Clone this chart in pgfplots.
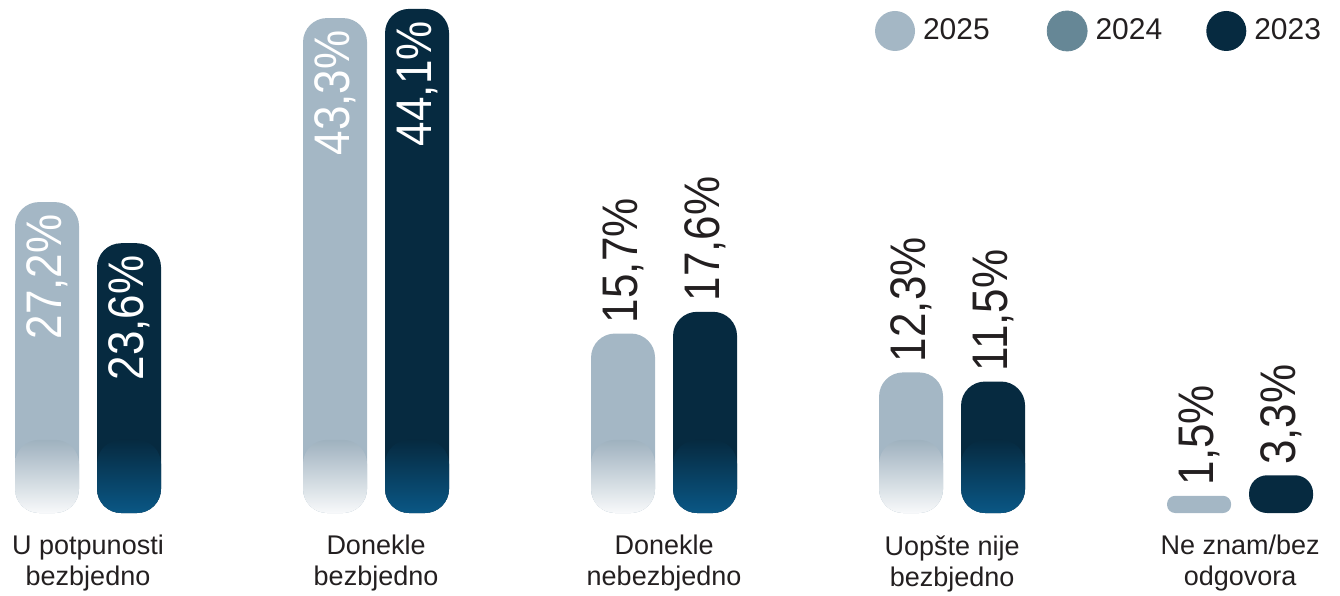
\documentclass[border=0pt]{standalone}
\usepackage{pgfplots}
\pgfplotsset{compat=1.18}
\usepackage{fontspec}
\setmainfont{Liberation Sans}
\newfontfamily\valfont{Liberation Sans}[FakeStretch=0.88]
\definecolor{cA}{HTML}{A4B7C5}
\definecolor{cB}{HTML}{668796}
\definecolor{cC}{HTML}{062A40}
\definecolor{cCb}{HTML}{0A5785}
\definecolor{txt}{HTML}{231F20}
\pgfplotsset{
  valnum/.style={nodes near coords={\pgfmathprintnumber[assume math mode=true,use comma,fixed,fixed zerofill,precision=1]{\pgfplotspointmeta}\%}},
  valin/.style={valnum,
    every node near coord/.append style={xshift=#1,rotate=90,anchor=east,inner xsep=6pt,inner ysep=0pt,text=white,font=\valfont\fontsize{25}{25}\selectfont}},
  valout/.style={valnum,
    every node near coord/.append style={xshift=#1,rotate=90,anchor=west,inner xsep=5pt,inner ysep=0pt,text=txt,font=\valfont\fontsize{25}{25}\selectfont}},
}
\begin{document}
\begin{tikzpicture}
\useasboundingbox (0,-41pt) rectangle (670pt,256.5pt);
\begin{axis}[
  at={(0,0)}, anchor=south west,
  scale only axis, width=670pt, height=256.5pt,
  xmin=-0.3056, xmax=4.347, ymin=0, ymax=44.88,
  clip=false,
  axis line style={draw=none}, tick style={draw=none},
  major tick length=0pt,
  ytick=\empty,
  xtick={0,1,2,3,4},
  xticklabels={U potpunosti\\bezbjedno, Donekle\\bezbjedno, Donekle\\nebezbjedno, Uopšte nije\\bezbjedno, Ne znam/bez\\odgovora},
  xticklabel style={align=center, anchor=north, inner sep=0pt, yshift=-11pt, text=txt, font=\fontsize{13.5}{15.5}\selectfont},
  bar width=32pt,
  legend style={draw=none, fill=none, at={(0.653,0.9396)}, anchor=west, inner sep=0pt, outer sep=0pt,
    font=\fontsize{15}{18}\selectfont, text=txt, nodes={inner sep=4pt},
    /tikz/column 2/.style={column sep=24.5pt},
    /tikz/column 4/.style={column sep=18pt}},
  legend columns=-1,
]
% 2025 tall
\addplot[ybar, bar shift=-20.5pt, fill=cA, draw=none, rounded corners=12pt, valin=-20.5pt,
  legend image code/.code={\fill[cA] (0pt,0pt) circle (10pt);}]
  coordinates {(0,27.2) (1,43.3)};
\addlegendimage{legend image code/.code={\fill[cB] (0pt,0pt) circle (10pt);}}
% 2023 tall
\addplot[ybar, bar shift=20.5pt, fill=cC, draw=none, rounded corners=12pt, valin=20.5pt,
  legend image code/.code={\fill[cC] (0pt,0pt) circle (10pt);}]
  coordinates {(0,23.6) (1,44.1)};
% medium
\addplot[ybar, forget plot, bar shift=-20.5pt, fill=cA, draw=none, rounded corners=12pt, valout=-20.5pt]
  coordinates {(2,15.7) (3,12.3)};
\addplot[ybar, forget plot, bar shift=20.5pt, fill=cC, draw=none, rounded corners=12pt, valout=20.5pt]
  coordinates {(2,17.6) (3,11.5)};
% small
\addplot[ybar, forget plot, bar shift=-20.5pt, fill=cA, draw=none, rounded corners=4pt, valout=-20.5pt]
  coordinates {(4,1.5)};
\addplot[ybar, forget plot, bar shift=20.5pt, fill=cC, draw=none, rounded corners=9pt, valout=20.5pt]
  coordinates {(4,3.3)};
% bottom gradient overlays
\addplot[ybar, forget plot, bar shift=-20.5pt, draw=none, rounded corners=12pt,
  top color=cA!97!black, middle color=cA!70!white, bottom color=cA!8!white]
  coordinates {(0,6.4) (1,6.4) (2,6.4) (3,6.4)};
\addplot[ybar, forget plot, bar shift=20.5pt, draw=none, rounded corners=12pt,
  top color=cC, bottom color=cCb]
  coordinates {(0,6.4) (1,6.4) (2,6.4) (3,6.4)};
\legend{2025,2024,2023}
\end{axis}
\end{tikzpicture}
\end{document}
